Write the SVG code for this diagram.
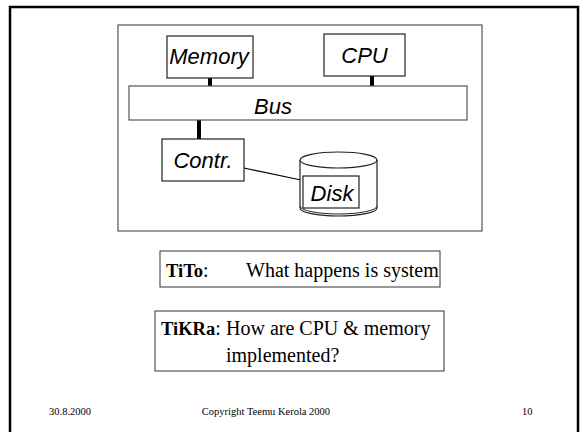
<svg xmlns="http://www.w3.org/2000/svg" width="580" height="432" viewBox="0 0 580 432">
<style>
.box{fill:#fff;stroke:#222;stroke-width:1.2}
.frame{fill:none;stroke:#555;stroke-width:1.2}
.lbl{font-family:"Liberation Sans",Arial,sans-serif;font-style:italic;font-size:22px;fill:#000;text-anchor:middle}
.tm{font-family:"Liberation Serif","Times New Roman",serif;font-size:20px;fill:#000}
.bd{font-weight:bold;font-size:18.5px}
.ft{font-family:"Liberation Serif","Times New Roman",serif;font-size:10.5px;fill:#000}
.bus{stroke:#000;stroke-width:4}
</style>
<rect x="0" y="0" width="580" height="432" fill="#fff"/>
<rect x="10" y="7" width="568" height="440" fill="none" stroke="#000" stroke-width="2.5"/>
<rect x="118" y="25" width="364" height="206" class="frame"/>
<g id="connectors">
<line x1="210" y1="78" x2="210" y2="86" class="bus"/>
<line x1="372" y1="76" x2="372" y2="86" class="bus"/>
<line x1="199" y1="120" x2="199" y2="139" class="bus"/>
<line x1="244" y1="168" x2="301" y2="180" stroke="#000" stroke-width="1.2"/>
</g>
<g id="memory"><rect x="167" y="36" width="86" height="42" class="box"/><text x="209" y="64" class="lbl">Memory</text></g>
<g id="cpu"><rect x="324" y="34" width="81" height="42" class="box"/><text x="364.5" y="63" class="lbl">CPU</text></g>
<g id="bus"><rect x="129" y="86" width="338" height="34" fill="#fff" stroke="#555" stroke-width="1.2"/><text x="273" y="114" class="lbl">Bus</text></g>
<g id="contr"><rect x="162" y="139" width="82" height="42" class="box"/><text x="203" y="168" class="lbl">Contr.</text></g>
<g id="disk">
<path d="M300,160 L300,208 A38.5,8 0 0 0 377,208 L377,160" fill="#fff" stroke="#222" stroke-width="1.2"/>
<path d="M300,206 A38.5,8 0 0 0 377,206" fill="none" stroke="#222" stroke-width="1"/>
<ellipse cx="338.5" cy="160" rx="38.5" ry="8" fill="#fff" stroke="#222" stroke-width="1.2"/>
<rect x="303" y="176" width="56" height="32" class="box"/>
<text x="332" y="201" class="lbl">Disk</text>
</g>
<g id="tito"><rect x="160" y="251" width="280" height="36" fill="#fff" stroke="#333" stroke-width="1"/>
<text x="166" y="277" class="tm"><tspan class="bd">TiTo</tspan>:</text>
<text x="246" y="277" class="tm" font-size="19.5">What happens is system</text></g>
<g id="tikra"><rect x="155" y="311" width="289" height="60" fill="#fff" stroke="#333" stroke-width="1"/>
<text x="161" y="335" class="tm"><tspan class="bd">TiKRa</tspan>:</text>
<text x="226" y="335" class="tm" font-size="20.5">How are CPU &amp; memory</text>
<text x="226" y="362" class="tm" font-size="20.5">implemented?</text></g>
<text x="49" y="415" class="ft">30.8.2000</text>
<text x="266" y="415" class="ft" text-anchor="middle">Copyright Teemu Kerola 2000</text>
<text x="522" y="415" class="ft">10</text>
</svg>
